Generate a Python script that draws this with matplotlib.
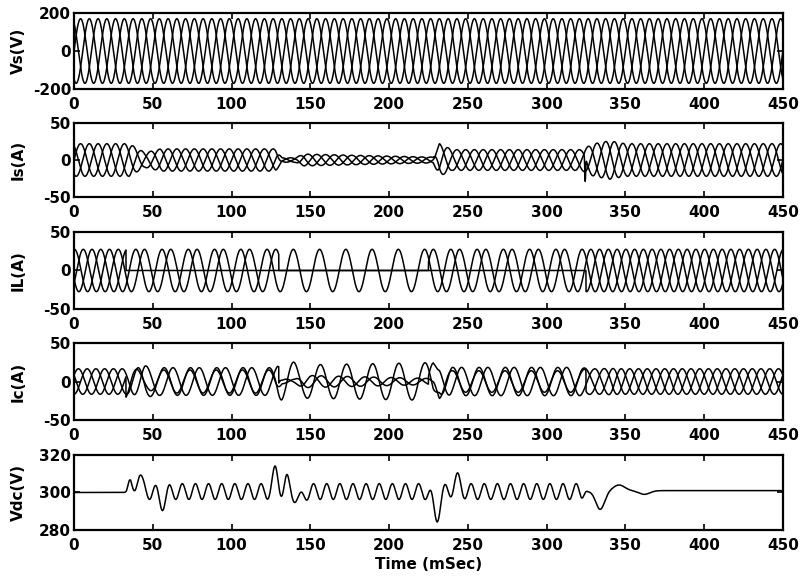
import numpy as np
import matplotlib
matplotlib.use("Agg")
import matplotlib.pyplot as plt

plt.rcParams['font.family'] = ['DejaVu Sans']
plt.rcParams['font.weight'] = 'bold'
plt.rcParams['font.size'] = 11
plt.rcParams['axes.unicode_minus'] = False

# ---- values ----
f_hz = 60.0                 # supply frequency
vs_peak = 170.0             # source voltage peak (V)
il_peak = 27.5              # load current peak per phase (A)
il_lag_deg = 37.0           # load current lag

# load phases connected in each interval (ms)
seg_t = [0, 33, 130, 225, 325, 450]
seg_on = [(1, 1, 1), (1, 1, 0), (1, 0, 0), (1, 1, 0), (1, 1, 1)]

# source current envelope (ms, A)
is_env_t = [0, 35, 40, 45, 55, 128, 132, 140, 146, 225, 228, 232, 240, 322, 330, 340, 350, 450]
is_env_a = [22, 22, 16, 10, 15, 15, 3, 3, 8, 4, 4, 22, 14, 14, 22, 26, 22, 22]
is_spike_t = 324.5
is_spike_a = -32.0

# dc link voltage
vdc_base_t = [0, 33, 34, 325, 330, 450]
vdc_base_v = [300, 300, 300.5, 300.5, 301, 301]
vdc_rip_t = [0, 33, 36, 322, 326, 450]
vdc_rip_a = [0, 0, 4.2, 4.2, 0, 0]
vdc_bump_t = [35, 41, 56, 128, 135, 143, 230, 243, 334, 346, 362]
vdc_bump_h = [3, 9, -6, 10, 5, -5, -13, 6, -10, 3, -2]
vdc_bump_w = [1.5, 2.5, 3, 2.5, 2, 3, 3, 3, 4, 5, 5]

xticks = [0, 50, 100, 150, 200, 250, 300, 350, 400, 450]
ylabels = ['Vs(V)', 'Is(A)', 'IL(A)', 'Ic(A)', 'Vdc(V)']
ylims = [(-200, 200), (-50, 50), (-50, 50), (-50, 50), (280, 320)]
yticks = [[-200, 0, 200], [-50, 0, 50], [-50, 0, 50], [-50, 0, 50], [280, 300, 320]]

# ---- build waveforms ----
t = np.arange(0, 450.01, 0.05)
w = 2 * np.pi * f_hz / 1000.0
shifts = np.deg2rad([0, 120, 240])
lag = np.deg2rad(il_lag_deg)

is_amp = np.interp(t, is_env_t, is_env_a)
seg_idx = np.clip(np.searchsorted(seg_t, t, side='right') - 1, 0, len(seg_on) - 1)

vs, is_, il, ic = [], [], [], []
for k, ph in enumerate(shifts):
    on = np.array([s[k] for s in seg_on])[seg_idx]
    v = vs_peak * np.sin(w * t - ph)
    i_s = is_amp * np.sin(w * t - ph)
    i_l = on * il_peak * np.sin(w * t - ph - lag)
    i_c = i_l - i_s
    if k == 0:
        i_s = i_s + is_spike_a * np.exp(-((t - is_spike_t) / 0.35) ** 2)
    vs.append(v)
    is_.append(i_s)
    il.append(i_l)
    ic.append(i_c)

vdc = np.interp(t, vdc_base_t, vdc_base_v)
vdc = vdc + np.interp(t, vdc_rip_t, vdc_rip_a) * np.sin(2 * w * t)
for bt, bh, bw in zip(vdc_bump_t, vdc_bump_h, vdc_bump_w):
    vdc = vdc + bh * np.exp(-((t - bt) / bw) ** 2)

series = [vs, is_, il, ic, [vdc]]

# ---- figure ----
fig = plt.figure(figsize=(8.01, 5.81), dpi=100)
left, width = 0.0924, 0.885
boxes = [(0.8468, 0.1308), (0.6609, 0.1274), (0.4682, 0.1325), (0.2771, 0.1325), (0.0878, 0.1291)]

for n, (bot, h) in enumerate(boxes):
    ax = fig.add_axes([left, bot, width, h])
    for y in series[n]:
        ax.plot(t, y, color='black', lw=1.1)
    ax.set_xlim(0, 450)
    ax.set_ylim(*ylims[n])
    ax.set_xticks(xticks)
    ax.set_yticks(yticks[n])
    ax.set_ylabel(ylabels[n], fontsize=11, fontweight='bold')
    ax.yaxis.set_label_coords(-0.068, 0.5)
    ax.tick_params(direction='in', top=True, right=True, length=4, width=1.2,
                   labelsize=11)
    ax.tick_params(axis='x', pad=6)
    ax.tick_params(axis='y', pad=2)
    for sp in ax.spines.values():
        sp.set_linewidth(1.6)
    if n == 4:
        ax.set_xlabel('Time (mSec)', fontsize=11, fontweight='bold', labelpad=3)

fig.savefig('out.png', dpi=100)
